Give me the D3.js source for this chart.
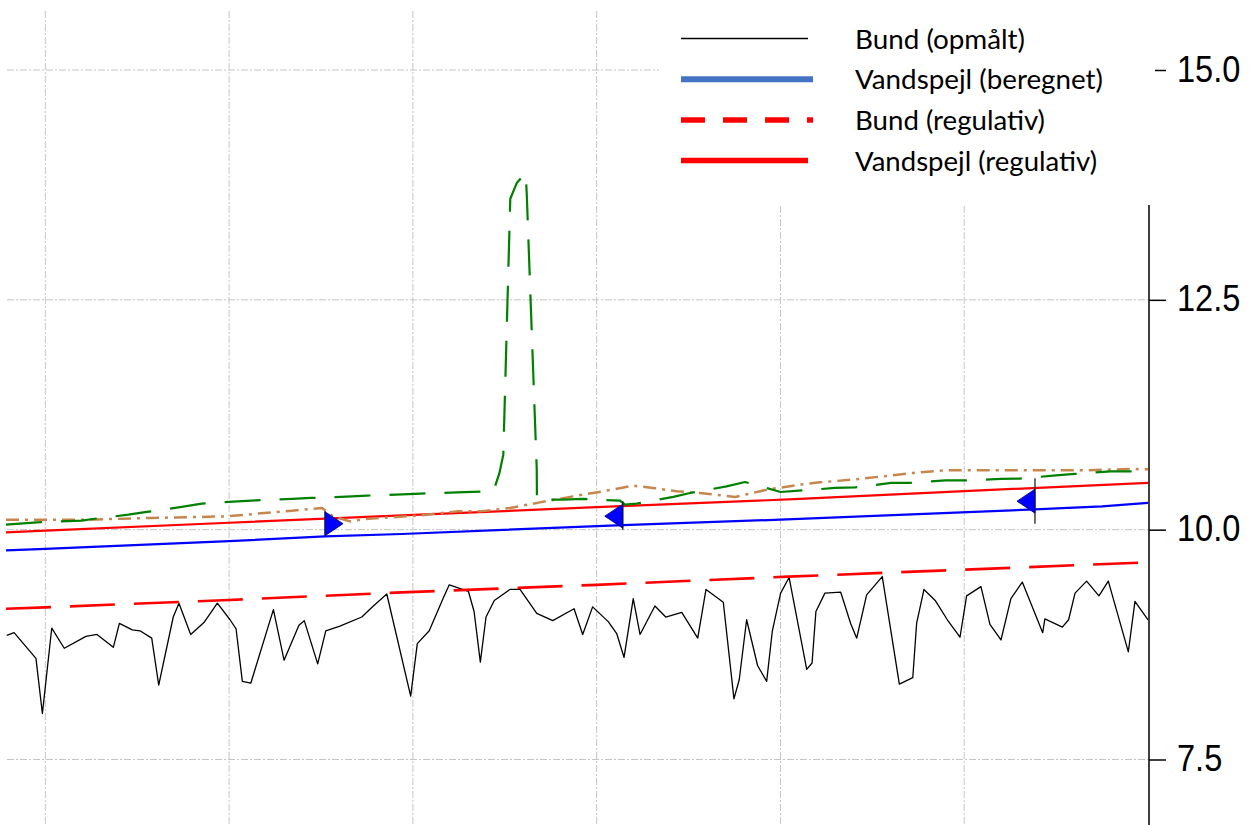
<!DOCTYPE html>
<html>
<head>
<meta charset="utf-8">
<script src="https://cdn.jsdelivr.net/npm/d3@7"></script>
<style>
  body { margin: 0; background: #fff; }
  svg { display: block; }
  .grid line { stroke: #c4c4c4; stroke-width: 1; stroke-dasharray: 7,2,2,2; }
  .axis line, .axis path { stroke: #000; stroke-width: 1.5; }
  .axis text { font-family: "Liberation Sans", Arial, sans-serif; font-size: 37px; fill: #000; }
  .legend text { font-family: Lato, "Open Sans", sans-serif; font-size: 26.5px; fill: #000; }
</style>
</head>
<body>
<script>
// Data (station in m, level in m)
var gridStations = [0, 100, 200, 300, 400, 500];
var yTicks = [7.5, 10, 12.5, 15];

// Bund (opmålt)
var bundStations = [-21.0, -17.0, -5.1, -1.6, 3.5, 10.3, 22.1, 28.1, 37.0, 40.3, 47.3, 51.5, 57.9, 61.7, 69.6, 72.7,
  79.1, 86.3, 93.6, 100.5, 103.8, 107.2, 111.8, 124.1, 129.9, 138.0, 140.9, 148.2, 152.6, 160.3, 172.2, 178.5,
  185.8, 198.8, 202.4, 208.9, 216.6, 219.8, 230.2, 233.3, 236.7, 239.8, 244.3, 252.8, 258.3, 267.4, 276.1, 287.7,
  292.4, 297.8, 306.3, 310.9, 314.9, 319.9, 323.6, 331.7, 337.6, 346.3, 355.0, 359.5, 368.9, 374.7, 377.6, 381.6,
  387.6, 392.5, 395.6, 400.1, 404.7, 414.3, 417.2, 419.3, 424.2, 432.8, 438.2, 441.5, 446.9, 455.4, 464.7, 472.0,
  474.1, 478.1, 484.2, 490.8, 497.7, 501.3, 509.1, 514.0, 520.0, 525.4, 531.6, 542.7, 543.9, 553.4, 556.8, 560.3,
  566.6, 573.3, 578.4, 589.3, 592.9, 600.0];
var bundLevels = [8.85, 8.88, 8.60, 8.00, 8.93, 8.71, 8.84, 8.86, 8.72, 8.98, 8.91, 8.90, 8.82, 8.31, 9.05, 9.20,
  8.86, 8.99, 9.20, 9.02, 8.92, 8.35, 8.33, 9.13, 8.58, 8.96, 9.01, 8.54, 8.90, 8.95, 9.05, 9.17,
  9.30, 8.19, 8.76, 8.90, 9.26, 9.40, 9.33, 9.11, 8.56, 9.05, 9.23, 9.35, 9.35, 9.09, 9.01, 9.14,
  8.86, 9.16, 9.00, 8.87, 8.61, 9.25, 8.86, 9.17, 9.05, 9.10, 8.82, 9.35, 9.21, 8.16, 8.37, 9.02,
  8.52, 8.35, 8.90, 9.31, 9.48, 8.48, 8.55, 9.11, 9.31, 9.32, 8.98, 8.82, 9.29, 9.49, 8.32, 8.39,
  8.98, 9.35, 9.23, 9.02, 8.83, 9.28, 9.38, 8.97, 8.80, 9.25, 9.43, 8.88, 9.03, 8.94, 9.02, 9.31,
  9.44, 9.28, 9.44, 8.67, 9.22, 9.02];

// Bund (regulativ)
var regBundStations = [-21.4, 0, 100, 193.9, 300, 404.2, 500, 600];
var regBundLevels = [9.14, 9.155, 9.235, 9.318, 9.40, 9.489, 9.565, 9.644];

// Vandspejl (regulativ)
var regWsStations = [-21.4, 0, 100, 203.8, 300, 410.6, 500, 600];
var regWsLevels = [9.971, 9.99, 10.075, 10.163, 10.245, 10.334, 10.42, 10.508];

// Vandspejl (beregnet)
var wsStations = [-21.4, 0, 100, 152.2, 193.9, 314.2, 400.1, 538.5, 575, 600];
var wsLevels = [9.775, 9.79, 9.875, 9.927, 9.953, 10.05, 10.109, 10.22, 10.254, 10.291];

// green dashed profile
var greenStations = [-21.4, -4.5, 19.8, 25.8, 45.2, 55.2, 74.2, 85.1, 104.5, 114.6, 134.4, 144.4, 164.0, 174.9,
  194.2, 204.3, 223.8, 243.8, 247.0, 249.2, 253.0, 256.5, 261.4, 262.0, 267.4, 267.5, 281.7, 292.6, 312.7, 315.4,
  321.8, 341.7, 350.8, 370.7, 380.7, 400.1, 410.1, 429.7, 440.6, 460.2, 470.0, 489.9, 500.4, 519.8, 530.3, 549.9,
  560.2, 579.8, 600.0];
var greenLevels = [10.054, 10.079, 10.098, 10.116, 10.163, 10.193, 10.247, 10.283, 10.308, 10.319, 10.334, 10.345,
  10.359, 10.370, 10.384, 10.392, 10.406, 10.417, 10.609, 10.816, 13.60, 13.77, 13.88, 13.63, 10.653, 10.326,
  10.326, 10.334, 10.315, 10.272, 10.283, 10.356, 10.399, 10.471, 10.519, 10.410, 10.424, 10.454, 10.460, 10.508,
  10.508, 10.536, 10.536, 10.552, 10.555, 10.591, 10.606, 10.634, 10.634];

// brown dash-dot profile
var brownStations = [-21.4, 24.3, 57.0, 98.9, 115.2, 134.2, 150.5, 156.5, 165.8, 174.0, 202.2, 224.0, 236.5, 252.8,
  269.1, 287.1, 303.4, 319.7, 330.6, 343.7, 356.2, 375.3, 392.7, 410.7, 421.5, 438.9, 455.8, 472.1, 489.5, 565.8,
  590.2, 600.0];
var brownLevels = [10.109, 10.109, 10.127, 10.145, 10.174, 10.207, 10.236, 10.145, 10.090, 10.116, 10.152, 10.199,
  10.199, 10.236, 10.297, 10.362, 10.417, 10.479, 10.454, 10.417, 10.399, 10.356, 10.435, 10.490, 10.515, 10.544,
  10.580, 10.617, 10.645, 10.645, 10.660, 10.656];

// structures (blue triangles)
var structStations = [152.2, 314.2, 538.5];
var structTop = [10.20, 10.31, 10.56];
var structBottom = [9.935, 10.0, 10.065];
var structLevel = [10.065, 10.147, 10.31];
var structDir = [1, -1, -1];

var legendLabels = ["Bund (opmålt)", "Vandspejl (beregnet)", "Bund (regulativ)", "Vandspejl (regulativ)"];

// Chart params
var svgWidth = 1253;
var svgHeight = 825;
var plot = { left: 6, right: 1148, top: 11, bottom: 825 };

var svg = d3.select("body").append("svg")
  .attr("width", svgWidth)
  .attr("height", svgHeight);

var x = d3.scaleLinear().domain([-21.4, 600]).range([plot.left, plot.right]);
var y = d3.scaleLinear().domain([7.5, 15]).range([759.5, 70]);

svg.append("clipPath").attr("id", "plotclip")
  .append("rect")
  .attr("x", plot.left).attr("y", plot.top)
  .attr("width", plot.right - plot.left).attr("height", plot.bottom - plot.top);

// grid
var grid = svg.append("g").attr("class", "grid");
grid.selectAll("line.v").data(gridStations).enter().append("line")
  .attr("class", "v")
  .attr("x1", d => x(d)).attr("x2", d => x(d))
  .attr("y1", plot.top).attr("y2", plot.bottom);
grid.selectAll("line.h").data(yTicks).enter().append("line")
  .attr("class", "h")
  .attr("x1", plot.left + 1).attr("x2", plot.right)
  .attr("y1", d => y(d)).attr("y2", d => y(d));

var line = d3.line().x(d => x(d[0])).y(d => y(d[1]));
var chart = svg.append("g").attr("clip-path", "url(#plotclip)");

function drawSeries(st, lv, color, width, dash) {
  chart.append("path")
    .attr("d", line(d3.zip(st, lv)))
    .attr("fill", "none")
    .attr("stroke", color)
    .attr("stroke-width", width)
    .attr("stroke-dasharray", dash || null)
    .attr("stroke-linejoin", "round");
}

drawSeries(bundStations, bundLevels, "#000", 1.3);
drawSeries(regBundStations, regBundLevels, "#ff0000", 2.6, "45,19");
drawSeries(wsStations, wsLevels, "#0000ff", 2.2);
drawSeries(regWsStations, regWsLevels, "#ff0000", 2.2);
drawSeries(brownStations, brownLevels, "#c8864f", 2.5, "13,6,3,6");
drawSeries(greenStations, greenLevels, "#008000", 2.2, "36,19");

// structures
var structs = d3.range(structStations.length).map(i => ({
  s: structStations[i], top: structTop[i], bottom: structBottom[i], level: structLevel[i], dir: structDir[i]
}));
var sg = chart.selectAll("g.struct").data(structs).enter().append("g").attr("class", "struct");
sg.append("line")
  .attr("x1", d => x(d.s)).attr("x2", d => x(d.s))
  .attr("y1", d => y(d.top)).attr("y2", d => y(d.bottom))
  .attr("stroke", "#222").attr("stroke-width", 1.3);
sg.append("path")
  .attr("d", function(d) {
    var bx = x(d.s), cy = y(d.level);
    return "M" + bx + "," + (cy - 12) + "L" + bx + "," + (cy + 12) + "L" + (bx + d.dir * 18) + "," + cy + "Z";
  })
  .attr("fill", "#0000ff")
  .attr("stroke", "#000066")
  .attr("stroke-width", 0.8);

// right axis
var axisG = svg.append("g")
  .attr("class", "axis")
  .attr("transform", `translate(${plot.right + 1}, 0)`)
  .call(d3.axisRight(y).tickValues(yTicks).tickSize(17).tickFormat(d3.format(".1f")));
axisG.select(".domain").remove();
axisG.append("line")
  .attr("x1", 0).attr("x2", 0)
  .attr("y1", 0).attr("y2", plot.bottom);
axisG.selectAll(".tick text")
  .attr("x", null).attr("dy", null)
  .attr("transform", "translate(28, 11) scale(0.88, 1)")
  .style("text-anchor", "start");

// legend box covers upper right
var legend = svg.append("g").attr("class", "legend");
legend.append("rect")
  .attr("x", 659).attr("y", 0)
  .attr("width", 496).attr("height", 205)
  .attr("fill", "#fff");

var legendStyles = [
  { color: "#000", width: 1.3, dash: null, textWidth: 170 },
  { color: "#4472c4", width: 6, dash: null, textWidth: 248 },
  { color: "#ff0000", width: 5.5, dash: "24,18", textWidth: 190 },
  { color: "#ff0000", width: 5.5, dash: null, textWidth: 242 }
];
var rows = legend.selectAll("g.row").data(legendLabels).enter().append("g")
  .attr("class", "row")
  .attr("transform", (d, i) => `translate(0, ${38.5 + i * 40.7})`);
rows.append("line")
  .attr("x1", 681).attr("x2", (d, i) => i === 1 || i === 2 ? 813 : 808)
  .attr("y1", 0).attr("y2", 0)
  .attr("stroke", (d, i) => legendStyles[i].color)
  .attr("stroke-width", (d, i) => legendStyles[i].width)
  .attr("stroke-dasharray", (d, i) => legendStyles[i].dash);
rows.append("text")
  .attr("x", 855).attr("y", 10)
  .attr("textLength", (d, i) => legendStyles[i].textWidth)
  .attr("lengthAdjust", "spacingAndGlyphs")
  .text(d => d);
</script>
</body>
</html>
